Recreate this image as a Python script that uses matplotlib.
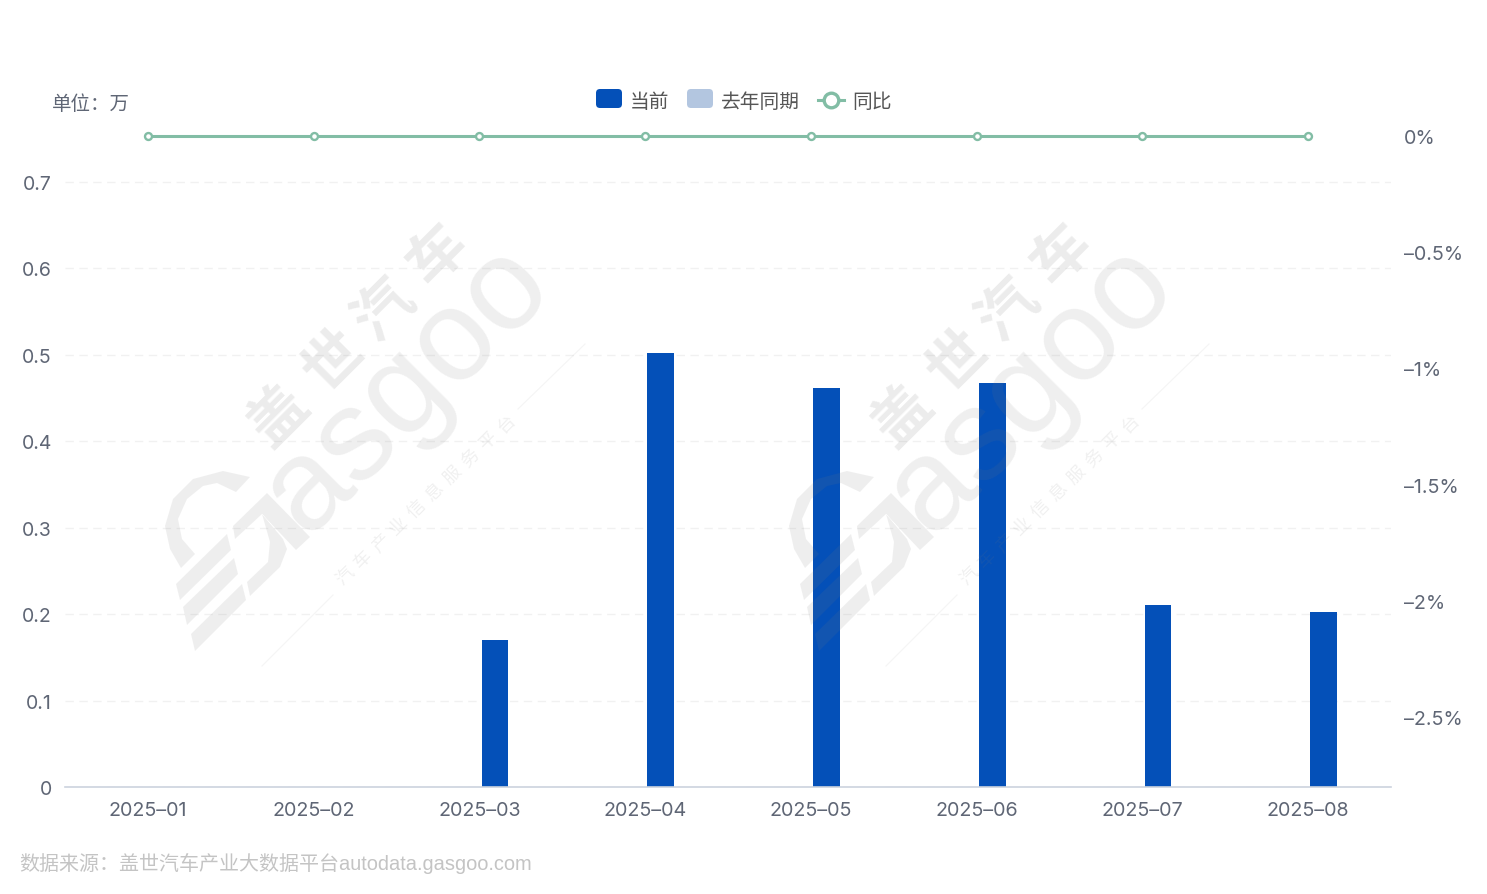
import matplotlib
matplotlib.use("Agg")
import matplotlib.pyplot as plt
from matplotlib.lines import Line2D
from matplotlib.patches import FancyBboxPatch, Polygon

months = ["2025–01", "2025–02", "2025–03", "2025–04", "2025–05", "2025–06", "2025–07", "2025–08"]
current = [0, 0, 0.17, 0.502, 0.462, 0.467, 0.211, 0.202]
last_year = [0, 0, 0, 0, 0, 0, 0, 0]
yoy = [0, 0, 0, 0, 0, 0, 0, 0]
left_ticks = [0, 0.1, 0.2, 0.3, 0.4, 0.5, 0.6, 0.7]
left_labels = ["0", "0.1", "0.2", "0.3", "0.4", "0.5", "0.6", "0.7"]
right_ticks = [0, -0.5, -1, -1.5, -2, -2.5]
right_labels = ["0%", "–0.5%", "–1%", "–1.5%", "–2%", "–2.5%"]

W, H = 1487, 895
BLUE = "#0450b8"
PALE = "#b3c6e0"
GREEN = "#82bda5"
TICK = "#5f6675"
MARK = "#7a7a7a"

plt.rcParams["font.family"] = ["Liberation Sans", "Noto Sans CJK SC", "DejaVu Sans"]


def fx(px):
    return px / W


def fy(py):
    return 1 - py / H


fig = plt.figure(figsize=(W / 100, H / 100), dpi=100, facecolor="white")
ax = fig.add_axes([fx(65), fy(788), fx(1391) - fx(65), fy(137) - fy(788)])
ax.set_xlim(-0.5, 7.5)
ax.set_ylim(0, 651 / 864.3)
ax.patch.set_visible(False)

x = list(range(len(months)))
ax.bar([i - 0.094 for i in x], last_year, width=0.161, color=PALE)
ax.bar([i + 0.094 for i in x], current, width=0.161, color=BLUE)

ax.set_yticks(left_ticks)
ax.set_yticklabels(left_labels, family=["Inter"])
ax.set_xticks(x)
ax.set_xticklabels(months, family=["Inter"])
ax.tick_params(axis="y", length=0, pad=9.5, labelsize=14, labelcolor=TICK)
ax.tick_params(axis="x", length=0, pad=10.2, labelsize=14.2, labelcolor=TICK)
ax.grid(axis="y", color="#f1f1f1", lw=1, dashes=(6, 4))
ax.set_axisbelow(True)
for s in ["top", "left", "right"]:
    ax.spines[s].set_visible(False)
ax.spines["bottom"].set_color("#ccd3de")
ax.spines["bottom"].set_linewidth(1.2)

ax2 = ax.twinx()
ax2.set_ylim(-651 / 232.4, 0)
ax2.plot(x, yoy, color=GREEN, lw=2.2, marker="o", ms=5, mfc="white", mec=GREEN, mew=1.7, clip_on=False)
ax2.set_yticks(right_ticks)
ax2.set_yticklabels(right_labels, family=["Inter"])
ax2.tick_params(axis="y", length=0, pad=9.5, labelsize=14.2, labelcolor=TICK)
for s in ["top", "left", "right", "bottom"]:
    ax2.spines[s].set_visible(False)

# logo pieces of the watermark, pixels of the first copy
g_arc = [(250, 478), (223, 472), (193, 480), (173, 500), (165, 527), (170, 550), (181, 569), (195, 555),
         (182, 540), (178, 520), (187, 500), (203, 487), (217, 484), (236, 493)]
stripes = [[(227, 535), (176, 585), (180, 601), (231, 551)],
           [(234, 559), (183, 608), (187, 626), (238, 575)],
           [(242, 585), (191, 635), (195, 652), (246, 601)]]
g_tail = [(267, 494), (310, 538), (296, 551), (262, 515), (270, 543), (268, 563), (247, 583), (250, 597),
          (280, 568), (287, 550), (283, 540), (262, 515), (235, 540), (233, 527)]

# watermark, same block twice
for dx in [0, 624]:
    fig.text(fx(431 + dx), fy(413), "asgoo", fontsize=93, rotation=45, color=MARK, alpha=0.12,
             ha="center", va="baseline", rotation_mode="anchor", zorder=5, family=["Liberation Sans"])
    for pts in [g_arc, g_tail] + stripes:
        fig.add_artist(Polygon([(fx(a + dx), fy(b)) for a, b in pts], closed=True, fc=MARK, ec="none",
                               alpha=0.12, zorder=5, transform=fig.transFigure))
    big = [("盖", 280, 417), ("世", 335, 362), ("汽", 386, 312), ("车", 438, 256)]
    for ch, cx, cy in big:
        fig.text(fx(cx + dx), fy(cy), ch, fontsize=42, fontweight="bold", rotation=45, color=MARK,
                 alpha=0.14, ha="center", va="center", rotation_mode="anchor", zorder=5)
    small = "汽车产业信息服务平台"
    for i, ch in enumerate(small):
        fig.text(fx(346 + dx + i * 17.8), fy(577 - i * 16.9), ch, fontsize=13, rotation=45, color=MARK,
                 alpha=0.11, ha="center", va="center", rotation_mode="anchor", zorder=5)
    for p0, p1 in [((262, 667), (333, 596)), ((518, 410), (585, 345))]:
        fig.add_artist(Line2D([fx(p0[0] + dx), fx(p1[0] + dx)], [fy(p0[1]), fy(p1[1])],
                              color=MARK, alpha=0.08, lw=0.8, zorder=5))

# legend
for x0, c in [(596, BLUE), (687, PALE)]:
    fig.add_artist(FancyBboxPatch((x0 + 4, H - 109 + 4), 18, 11, boxstyle="round,pad=4", fc=c, ec="none",
                                  transform=None))
fig.add_artist(Line2D([fx(818), fx(844)], [fy(100.5), fy(100.5)], color=GREEN, lw=2.2))
fig.add_artist(Line2D([fx(831)], [fy(100.5)], color=GREEN, marker="o", ms=10.5, mfc="white", mec=GREEN, mew=2.4))
for lx, label in [(630, "当前"), (721, "去年同期"), (852, "同比")]:
    fig.text(fx(lx), fy(101), label, fontsize=14.2, color="#565656", ha="left", va="center_baseline")

fig.text(fx(51.5), fy(103), "单位：万", fontsize=14, color=TICK, ha="left", va="center_baseline")
fig.text(fx(19.5), fy(862), "数据来源：盖世汽车产业大数据平台autodata.gasgoo.com", fontsize=14.4, color="#c4c4c4",
         ha="left", va="center_baseline")

fig.savefig("out.png", dpi=100, facecolor="white")
